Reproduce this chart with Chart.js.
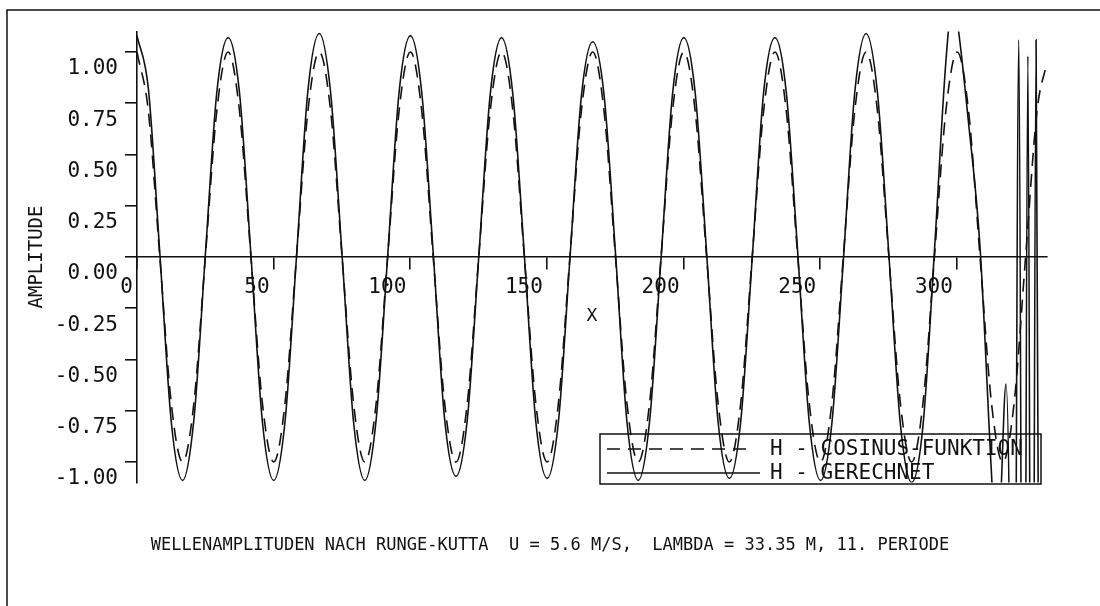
<!DOCTYPE html>
<html>
<head>
<meta charset="utf-8">
<title>Wellenamplituden nach Runge-Kutta</title>
<script src="https://cdn.jsdelivr.net/npm/chart.js@4.4.1/dist/chart.umd.min.js"></script>
<style>
  html, body { margin: 0; padding: 0; background: #fff; }
</style>
</head>
<body>
<canvas id="chart" width="1100" height="606"></canvas>
<script>
// ===============================
// Data
// ===============================
const xCos = [
    0, 4.17, 8.34, 12.51, 16.68, 20.84, 25.01, 29.18,
    33.35, 37.52, 41.69, 45.86, 50.03, 54.19, 58.36, 62.53,
    66.70, 70.87, 75.04, 79.21, 83.38, 87.54, 91.71, 95.88,
    100.05, 104.22, 108.39, 112.56, 116.73, 120.89, 125.06, 129.23,
    133.40, 137.57, 141.74, 145.91, 150.08, 154.24, 158.41, 162.58,
    166.75, 170.92, 175.09, 179.26, 183.43, 187.59, 191.76, 195.93,
    200.10, 204.27, 208.44, 212.61, 216.78, 220.94, 225.11, 229.28,
    233.45, 237.62, 241.79, 245.96, 250.13, 254.29, 258.46, 262.63,
    266.80, 270.97, 275.14, 279.31, 283.48, 287.64, 291.81, 295.98,
    300.15, 304.32, 308.49, 312.66, 316.83, 320.99, 325.16, 329.33,
    333
];
const hCos = [
    1, 0.71, 0, -0.71, -1, -0.71, 0, 0.71,
    1, 0.71, 0, -0.71, -1, -0.71, 0, 0.71,
    1, 0.71, 0, -0.71, -1, -0.71, 0, 0.71,
    1, 0.71, 0, -0.71, -1, -0.71, 0, 0.71,
    1, 0.71, 0, -0.71, -1, -0.71, 0, 0.71,
    1, 0.71, 0, -0.71, -1, -0.71, 0, 0.71,
    1, 0.71, 0, -0.71, -1, -0.71, 0, 0.71,
    1, 0.71, 0, -0.71, -1, -0.71, 0, 0.71,
    1, 0.71, 0, -0.71, -1, -0.71, 0, 0.71,
    1, 0.71, 0, -0.71, -1, -0.71, 0, 0.71,
    0.95
];
const xRk = [
    0, 4.17, 8.34, 12.51, 16.68, 20.84, 25.01, 29.18,
    33.35, 37.52, 41.69, 45.86, 50.03, 54.19, 58.36, 62.53,
    66.70, 70.87, 75.04, 79.21, 83.38, 87.54, 91.71, 95.88,
    100.05, 104.22, 108.39, 112.56, 116.73, 120.89, 125.06, 129.23,
    133.40, 137.57, 141.74, 145.91, 150.08, 154.24, 158.41, 162.58,
    166.75, 170.92, 175.09, 179.26, 183.43, 187.59, 191.76, 195.93,
    200.10, 204.27, 208.44, 212.61, 216.78, 220.94, 225.11, 229.28,
    233.45, 237.62, 241.79, 245.96, 250.13, 254.29, 258.46, 262.63,
    266.80, 270.97, 275.14, 279.31, 283.48, 287.64, 291.81, 295.98,
    298.5, 300.15, 304.32, 308.49, 312.66, 314.2, 315.8, 318.0,
    319.4, 320.6, 322.7, 324.4, 326.0, 327.5, 329.0, 330.6
];
const hRk = [
    1.08, 0.82, 0.02, -0.80, -1.09, -0.79, 0.01, 0.80,
    1.07, 0.80, 0.01, -0.80, -1.09, -0.80, 0.00, 0.81,
    1.09, 0.80, 0.01, -0.80, -1.09, -0.79, 0.00, 0.80,
    1.08, 0.80, 0.02, -0.79, -1.07, -0.79, 0.00, 0.79,
    1.07, 0.79, 0.01, -0.80, -1.08, -0.80, -0.01, 0.78,
    1.05, 0.79, 0.02, -0.80, -1.09, -0.80, -0.01, 0.79,
    1.07, 0.80, 0.02, -0.80, -1.08, -0.80, -0.01, 0.80,
    1.07, 0.80, 0.02, -0.80, -1.09, -0.81, -0.02, 0.80,
    1.09, 0.80, 0.01, -0.81, -1.10, -0.82, 0.03, 0.95,
    1.25, 1.15, 0.65, 0.05, -1.05, -1.40, -1.25, -0.62,
    -1.50, -4.0, 1.06, -4.0, 0.98, -4.0, 1.06, -4.0
];
const xTicks = [0, 50, 100, 150, 200, 250, 300];
const yTicks = [-1, -0.75, -0.5, -0.25, 0, 0.25, 0.5, 0.75, 1];
const seriesLabels = ["H - COSINUS-FUNKTION", "H - GERECHNET"];
const caption = "WELLENAMPLITUDEN NACH RUNGE-KUTTA  U = 5.6 M/S,  LAMBDA = 33.35 M, 11. PERIODE";

// ===============================
// Styling
// ===============================
const ink = "#111";
const mono = "'DejaVu Sans Mono', 'Liberation Mono', monospace";

const toPoints = (xs, ys) => xs.map((x, i) => ({x: x, y: ys[i]}));

// outer plotter frame (left + top edge of the sheet)
const sheetFrame = {
    id: "sheetFrame",
    beforeDraw(chart){
        const ctx = chart.ctx;
        ctx.save();
        ctx.fillStyle = "#fff";
        ctx.fillRect(0, 0, chart.width, chart.height);
        ctx.strokeStyle = ink;
        ctx.lineWidth = 1.5;
        ctx.beginPath();
        ctx.moveTo(7, chart.height);
        ctx.lineTo(7, 10);
        ctx.lineTo(chart.width, 10);
        ctx.stroke();
        ctx.restore();
    }
};

// boxed legend inside the plot, like the plotter output
const boxLegend = {
    id: "boxLegend",
    afterDraw(chart){
        const ctx = chart.ctx;
        const box = {l: 600, t: 434, r: 1041, b: 484};
        const rows = [449, 473];
        ctx.save();
        ctx.strokeStyle = ink;
        ctx.lineWidth = 1.5;
        ctx.strokeRect(box.l, box.t, box.r - box.l, box.b - box.t);
        chart.data.datasets.forEach((ds, i)=>{
            ctx.setLineDash(ds.borderDash || []);
            ctx.beginPath();
            ctx.moveTo(607, rows[i]);
            ctx.lineTo(i === 0 ? 753 : 760, rows[i]);
            ctx.stroke();
            ctx.setLineDash([]);
            ctx.fillStyle = ink;
            ctx.font = "21px " + mono;
            ctx.textBaseline = "middle";
            ctx.textAlign = "left";
            ctx.fillText(ds.label, 770, rows[i] + 1);
        });
        ctx.restore();
    }
};

// ===============================
// Chart
// ===============================
const ctxWave = document.getElementById("chart").getContext("2d");
const waveChart = new Chart(ctxWave, {
    type: "line",
    data: {
        datasets: [{
            label: seriesLabels[0],
            data: toPoints(xCos, hCos),
            borderColor: ink,
            borderWidth: 1.6,
            borderDash: [13, 8],
            pointRadius: 0,
            tension: 0.4,
            cubicInterpolationMode: "monotone",
            fill: false
        },{
            label: seriesLabels[1],
            data: toPoints(xRk, hRk),
            borderColor: ink,
            borderWidth: 1.6,
            pointRadius: 0,
            tension: 0.4,
            cubicInterpolationMode: "monotone",
            fill: false
        }]
    },
    options: {
        responsive: false,
        animation: false,
        layout: {padding: {top: 31.5, left: 0, right: 0, bottom: 0}},
        plugins: {
            legend: {display: false},
            tooltip: {enabled: false},
            title: {
                display: true,
                position: "bottom",
                text: caption,
                color: ink,
                font: {family: mono, size: 17, weight: "normal", lineHeight: 1.2},
                padding: {top: 53.3, bottom: 49.8}
            }
        },
        scales: {
            x: {
                type: "linear",
                min: 0,
                max: 333,
                position: {y: 0},
                border: {display: true, color: ink, width: 1.6},
                grid: {drawOnChartArea: false, drawTicks: true, tickLength: 12, color: ink, lineWidth: 1.6},
                ticks: {
                    align: "end",
                    labelOffset: -4,
                    padding: 8.5,
                    maxRotation: 0,
                    autoSkip: false,
                    color: ink,
                    font: {family: mono, size: 21, lineHeight: 1},
                    callback: v => String(v)
                },
                title: {display: true, text: "X", color: ink, font: {family: mono, size: 18, lineHeight: 1}, padding: {top: 0, bottom: 0}},
                afterBuildTicks: s => { s.ticks = xTicks.map(v => ({value: v})); }
            },
            y: {
                min: -1.1,
                max: 1.1,
                position: "left",
                border: {display: true, color: ink, width: 1.6},
                grid: {drawOnChartArea: false, drawTicks: true, tickLength: 12, color: ink, lineWidth: 1.6},
                ticks: {
                    padding: 7,
                    labelOffset: 17,
                    color: ink,
                    font: {family: mono, size: 21},
                    callback: v => Number(v).toFixed(2)
                },
                title: {display: true, text: "AMPLITUDE", color: ink, font: {family: mono, size: 19, lineHeight: 1.2}, padding: {top: 25.6, bottom: 0}},
                afterBuildTicks: s => { s.ticks = yTicks.map(v => ({value: v})); },
                afterFit: s => { s.width = 137; }
            },
            yRight: {
                position: "right",
                display: true,
                grid: {display: false},
                border: {display: false},
                ticks: {display: false},
                afterFit: s => { s.width = 53; }
            }
        }
    },
    plugins: [sheetFrame, boxLegend]
});
</script>
</body>
</html>
